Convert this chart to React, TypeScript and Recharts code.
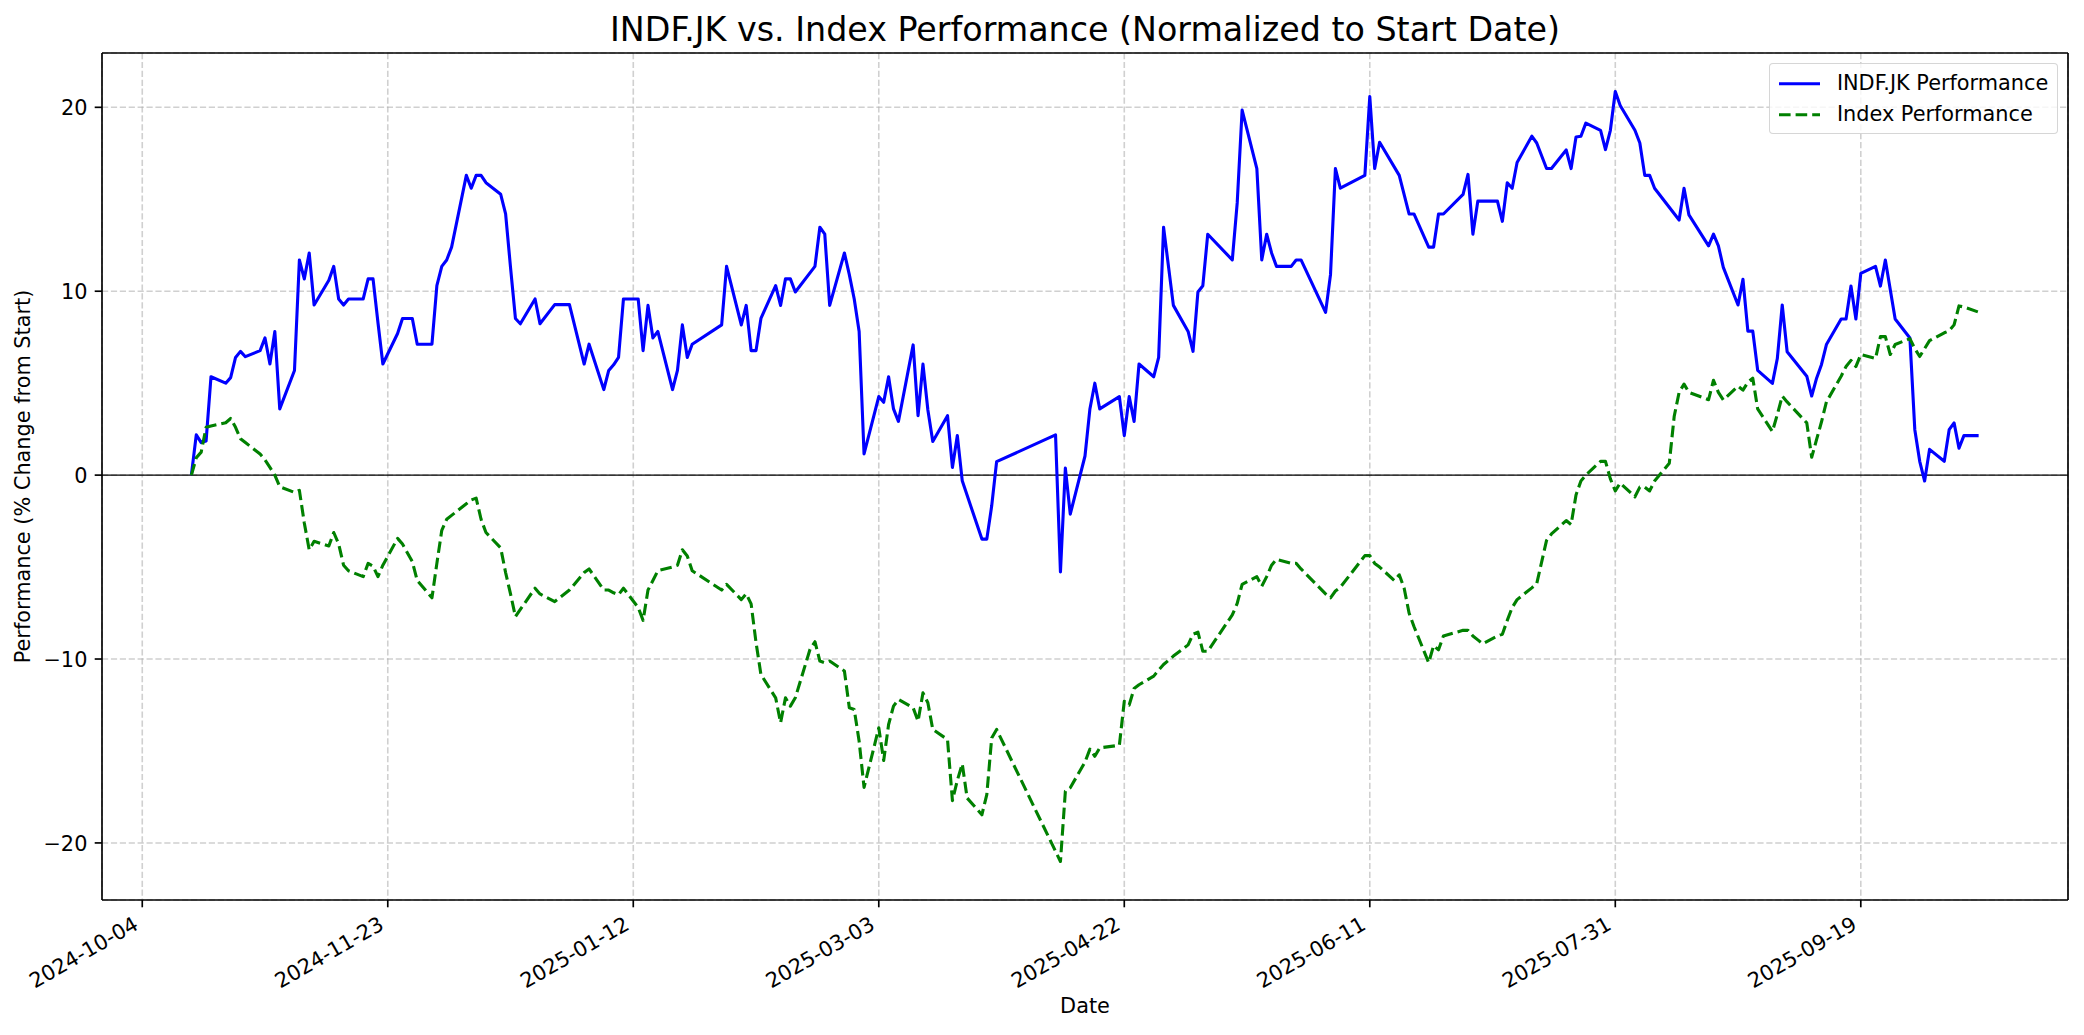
import React from 'react';
import { LineChart, Line, XAxis, YAxis, CartesianGrid, ReferenceLine, Legend } from 'recharts';

// ---------------- data ----------------
const dates: string[] = [
  '2024-10-14','2024-10-15','2024-10-16','2024-10-17','2024-10-18','2024-10-21','2024-10-22','2024-10-23','2024-10-24','2024-10-25','2024-10-28','2024-10-29','2024-10-30','2024-10-31',
  '2024-11-01','2024-11-04','2024-11-05','2024-11-06','2024-11-07','2024-11-08','2024-11-11','2024-11-12','2024-11-13','2024-11-14','2024-11-15','2024-11-18','2024-11-19','2024-11-20','2024-11-21','2024-11-22','2024-11-25','2024-11-26','2024-11-28','2024-11-29',
  '2024-12-02','2024-12-03','2024-12-04','2024-12-05','2024-12-06','2024-12-09','2024-12-10','2024-12-11','2024-12-12','2024-12-13','2024-12-16','2024-12-17','2024-12-18','2024-12-19','2024-12-20','2024-12-23','2024-12-24','2024-12-27','2024-12-30',
  '2025-01-02','2025-01-03','2025-01-06','2025-01-07','2025-01-08','2025-01-09','2025-01-10','2025-01-13','2025-01-14','2025-01-15','2025-01-16','2025-01-17','2025-01-20','2025-01-21','2025-01-22','2025-01-23','2025-01-24','2025-01-30','2025-01-31',
  '2025-02-03','2025-02-04','2025-02-05','2025-02-06','2025-02-07','2025-02-10','2025-02-11','2025-02-12','2025-02-13','2025-02-14','2025-02-17','2025-02-18','2025-02-19','2025-02-20','2025-02-21','2025-02-24','2025-02-25','2025-02-26','2025-02-27','2025-02-28',
  '2025-03-03','2025-03-04','2025-03-05','2025-03-06','2025-03-07','2025-03-10','2025-03-11','2025-03-12','2025-03-13','2025-03-14','2025-03-17','2025-03-18','2025-03-19','2025-03-20','2025-03-21','2025-03-24','2025-03-25','2025-03-26','2025-03-27',
  '2025-04-08','2025-04-09','2025-04-10','2025-04-11','2025-04-14','2025-04-15','2025-04-16','2025-04-17','2025-04-21','2025-04-22','2025-04-23','2025-04-24','2025-04-25','2025-04-28','2025-04-29','2025-04-30',
  '2025-05-02','2025-05-05','2025-05-06','2025-05-07','2025-05-08','2025-05-09','2025-05-14','2025-05-15','2025-05-16','2025-05-19','2025-05-20','2025-05-21','2025-05-22','2025-05-23','2025-05-26','2025-05-27','2025-05-28',
  '2025-06-02','2025-06-03','2025-06-04','2025-06-05','2025-06-10','2025-06-11','2025-06-12','2025-06-13','2025-06-16','2025-06-17','2025-06-18','2025-06-19','2025-06-20','2025-06-23','2025-06-24','2025-06-25','2025-06-26','2025-06-30',
  '2025-07-01','2025-07-02','2025-07-03','2025-07-04','2025-07-07','2025-07-08','2025-07-09','2025-07-10','2025-07-11','2025-07-14','2025-07-15','2025-07-17','2025-07-18','2025-07-21','2025-07-22','2025-07-23','2025-07-24','2025-07-25','2025-07-28','2025-07-29','2025-07-30','2025-07-31',
  '2025-08-01','2025-08-04','2025-08-05','2025-08-06','2025-08-07','2025-08-08','2025-08-11','2025-08-12','2025-08-13','2025-08-14','2025-08-15','2025-08-19','2025-08-20','2025-08-21','2025-08-22','2025-08-25','2025-08-26','2025-08-27','2025-08-28','2025-08-29',
  '2025-09-01','2025-09-02','2025-09-03','2025-09-04','2025-09-08','2025-09-09','2025-09-10','2025-09-11','2025-09-12','2025-09-15','2025-09-16','2025-09-17','2025-09-18','2025-09-19','2025-09-22','2025-09-23','2025-09-24','2025-09-25','2025-09-26','2025-09-29','2025-09-30',
  '2025-10-01','2025-10-02','2025-10-03','2025-10-06','2025-10-07','2025-10-08','2025-10-09','2025-10-10','2025-10-13',
];

const stockPerf: (number | null)[] = [
  0, 2.19, 1.77, 1.85, 5.35, 5.0, 5.3, 6.4, 6.73, 6.44, 6.77, 7.46, 6.04, 7.81,
  3.6, 5.69, 11.7, 10.67, 12.08, 9.25, 10.6, 11.35, 9.58, 9.25, 9.58, 9.58, 10.67, 10.67, 8.3, 6.04, 7.7, 8.52, 8.52, 7.12,
  7.12, 10.3, 11.35, 11.7, 12.4, 16.3, 15.6, 16.3, 16.3, 15.9, 15.27, 14.2, 11.3, 8.52, 8.23, 9.58, 8.23, 9.27, 9.27,
  6.04, 7.12, 4.65, 5.69, 6.0, 6.4, 9.58, 9.58, 6.77, 9.23, 7.46, 7.81, 4.65, 5.69, 8.17, 6.4, 7.12, 8.17, 11.35,
  8.17, 9.23, 6.77, 6.77, 8.52, 10.3, 9.23, 10.67, 10.67, 9.96, null, 11.35, 13.48, 13.1, 9.23, 12.08, 10.9, 9.58, 7.81, 1.15,
  4.27, 3.96, 5.35, 3.6, 2.92, 7.08, 3.23, 6.04, 3.54, 1.83, 3.23, 0.42, 2.15, -0.31, null, -3.48, -3.48, -1.67, 0.73,
  2.19, -5.27, 0.38, -2.12, 1.04, 3.6, 5.0, 3.6, 4.27, 2.15, 4.27, 2.92, 6.04, 5.35, 6.4, 13.48,
  9.23, 7.81, 6.73, 9.96, 10.3, 13.1, 11.7, 14.8, 19.85, 16.67, 11.7, 13.1, 12.08, 11.35, 11.35, 11.7, 11.7,
  8.85, 10.9, 16.67, 15.6, 16.3, 20.58, 16.67, 18.1, null, 16.3, null, 14.2, 14.2, 12.4, 12.4, 14.2, 14.2, 15.27,
  16.35, 13.1, 14.9, 14.9, 14.9, 13.8, 15.9, 15.6, 17.0, 18.43, 18.06, 16.67, 16.67, 17.68, 16.67, 18.39, 18.43, 19.14, 18.75, 17.7, 18.75, 20.86,
  20.1, 18.75, 18.06, 16.3, 16.3, 15.6, null, null, 13.87, 15.6, 14.15, 12.47, 13.1, 12.47, 11.3, 9.25, 10.65, 7.83, 7.83, 5.7,
  4.99, 6.34, 9.25, 6.71, 5.38, 4.3, 5.27, 6.02, 7.1, 8.49, 8.49, 10.28, 8.49, 10.97, 11.35, 10.28, 11.7, null, 8.49, 7.46, 2.47,
  0.75, -0.32, 1.4, 0.75, 2.47, 2.84, 1.46, 2.15, 2.15,
];

const indexPerf: (number | null)[] = [
  0, 0.94, 1.25, 2.6, 2.67, 2.85, 3.08, 2.6, 1.98, 1.77, 1.15, 0.83, 0.42, 0,
  -0.63, -0.94, -0.83, -2.6, -4.06, -3.6, -3.85, -3.12, -3.75, -4.9, -5.2, -5.52, -4.8, -4.95, -5.52, -4.9, -3.44, -3.75, -4.7, -5.73,
  -6.67, -4.8, -3.0, -2.4, -2.19, -1.56, -1.35, -1.25, -2.4, -3.12, -3.96, -5.3, -6.46, -7.7, -7.3, -6.15, -6.46, -6.88, -6.25,
  -5.3, -5.1, -6.25, -6.25, -6.4, -6.5, -6.15, -7.2, -7.9, -6.25, -5.73, -5.2, -5.0, -4.9, -4.06, -4.4, -5.2, -6.25, -5.94,
  -6.77, -6.45, -7.0, -9.1, -10.84, -12.11, -13.47, -12.11, -12.56, -12.11, -9.47, -9.06, -10.11, -10.2, -10.11, -10.65, -12.65, -12.74, -14.47, -16.98,
  -13.74, -15.52, -13.56, -12.56, -12.2, -12.65, -13.38, -11.84, -12.38, -13.83, -14.38, -17.7, -16.6, -15.7, -17.56, -18.47, -17.37, -14.29, -13.83,
  null, -21.01, -17.19, -17.0, -15.6, -14.9, -15.29, -14.83, -14.69, -12.3, -12.5, -11.6, -11.4, -10.93, -10.6, -10.3,
  -9.84, -9.23, -8.65, -8.54, -9.58, -9.58, -7.6, -6.98, -5.94, -5.52, -6.04, -5.52, -4.9, -4.58, -4.79, -4.79, -5.1,
  -6.46, -6.67, -6.3, -6.1, -4.38, -4.38, -4.8, -5.0, -5.73, -5.42, -6.15, -7.5, -8.23, -10.2, -9.27, -9.5, -8.75, -8.44,
  -8.44, -8.75, -8.96, -9.17, -8.75, -8.65, -7.9, -7.2, -6.77, -6.13, -5.9, -3.55, -3.2, -2.47, -2.69, -1.08, -0.32, 0, 0.75, 0.75, -0.2, -0.86,
  -0.43, -1.18, -0.65, -0.65, -0.86, -0.32, 0.65, 3.2, 4.5, 4.95, 4.5, 4.1, 5.16, 4.5, 4.09, 4.84, 4.62, 5.05, 5.27, 3.6,
  2.37, 3.3, 4.3, 3.98, 2.84, 0.97, 1.94, 2.9, 3.98, 5.38, 5.91, 6.24, 5.9, 6.56, 6.34, 7.53, 7.53, 6.56, 7.1, 7.42, 6.88,
  6.45, 6.88, 7.31, 7.74, 7.85, 8.17, 9.2, 9.14, 8.86,
];

const xTickLabels = ['2024-10-04', '2024-11-23', '2025-01-12', '2025-03-03', '2025-04-22', '2025-06-11', '2025-07-31', '2025-09-19'];
const yTicks = [-20, -10, 0, 10, 20];

const titleText = 'INDF.JK vs. Index Performance (Normalized to Start Date)';
const xLabelText = 'Date';
const yLabelText = 'Performance (% Change from Start)';
const stockName = 'INDF.JK Performance';
const indexName = 'Index Performance';

// ---------------- helpers ----------------
const W = 2084;
const H = 1035;
const FONT = '"DejaVu Sans", "Liberation Sans", sans-serif';
const FS = 20.83;
const DAY = 86400000;
const ORIGIN = Date.UTC(2024, 9, 4);
const toDay = (s: string) => {
  const [y, m, d] = s.split('-').map(Number);
  return (Date.UTC(y, m - 1, d) - ORIGIN) / DAY;
};

const chartData = dates.map((dt, i) => ({ x: toDay(dt), stock: stockPerf[i], index: indexPerf[i] }));
const xTicks = xTickLabels.map(toDay);

const xs = chartData.map((d) => d.x);
const xMin = Math.min(...xs);
const xMax = Math.max(...xs);
const xPad = (xMax - xMin) * 0.05;
const xDomain: [number, number] = [xMin - xPad, xMax + xPad];

const ys = [...stockPerf, ...indexPerf].filter((v): v is number => v !== null);
const yMin = Math.min(...ys);
const yMax = Math.max(...ys);
const yPad = (yMax - yMin) * 0.05;
const yDomain: [number, number] = [yMin - yPad, yMax + yPad];

const seriesStyle: Record<string, { dash?: string }> = {
  stock: {},
  index: { dash: '11.6 5' },
};

const fmtY = (v: number) => (v < 0 ? '\u2212' + Math.abs(v) : String(v));

function XTick(props: any) {
  const { x, y, payload } = props;
  const idx = xTicks.indexOf(payload.value);
  const label = idx >= 0 ? xTickLabels[idx] : '';
  return (
    <text
      transform={`translate(${x - 2.6},${y + 13.7}) rotate(-30)`}
      textAnchor="end"
      fontSize={FS}
      fontFamily={FONT}
      fill="#000"
    >
      {label}
    </text>
  );
}

function YTick(props: any) {
  const { x, y, payload } = props;
  return (
    <text x={x} y={y + 7.6} textAnchor="end" fontSize={FS} fontFamily={FONT} fill="#000">
      {fmtY(payload.value)}
    </text>
  );
}

function XLabel(props: any) {
  const vb = props.viewBox || { x: 102, y: 900, width: 1966, height: 100 };
  return (
    <text x={vb.x + vb.width / 2} y={vb.y + 113} textAnchor="middle" fontSize={FS} fontFamily={FONT} fill="#000">
      {xLabelText}
    </text>
  );
}

function YLabel(props: any) {
  const vb = props.viewBox || { x: 42, y: 53, width: 60, height: 847 };
  const x = vb.x + vb.width - 71.7;
  const y = vb.y + vb.height / 2;
  return (
    <text x={x} y={y} transform={`rotate(-90, ${x}, ${y})`} textAnchor="middle" fontSize={FS} fontFamily={FONT} fill="#000">
      {yLabelText}
    </text>
  );
}

function renderLegend(props: any) {
  const items = props.payload || [];
  return (
    <div
      style={{
        boxSizing: 'border-box',
        padding: '8.3px',
        background: 'rgba(255,255,255,0.8)',
        border: '1.2px solid rgba(204,204,204,0.8)',
        borderRadius: 4,
        fontFamily: FONT,
        fontSize: FS,
        color: '#000',
        lineHeight: '20.6px',
        textAlign: 'left',
      }}
    >
      {items.map((item: any, i: number) => {
        const st = seriesStyle[item.dataKey as string] || {};
        return (
          <div key={i} style={{ display: 'flex', alignItems: 'center', height: 20.6, marginTop: i ? 10.4 : 0 }}>
            <svg width={41.6} height={20.6} style={{ display: 'block', flex: 'none' }}>
              <line x1={0} x2={41.6} y1={10.8} y2={10.8} stroke={item.color} strokeWidth={3.1} strokeDasharray={st.dash} />
            </svg>
            <span style={{ marginLeft: 16.6, whiteSpace: 'nowrap' }}>{item.value}</span>
          </div>
        );
      })}
    </div>
  );
}

const spine = { stroke: '#000', strokeWidth: 1.67 };

export default function App() {
  return (
    <div style={{ position: 'absolute', left: 0, top: 0, width: W, height: H, background: '#fff' }}>
      <LineChart width={W} height={H} data={chartData} margin={{ top: 53, right: 16, bottom: 35, left: 42 }}>
        <CartesianGrid stroke="#b0b0b0" strokeOpacity={0.6} strokeWidth={1.6} strokeDasharray="6.2 2.7" />
        <XAxis
          dataKey="x"
          type="number"
          domain={xDomain}
          allowDataOverflow
          ticks={xTicks}
          interval={0}
          tick={<XTick />}
          tickSize={7.3}
          tickMargin={7.3}
          tickLine={spine}
          axisLine={spine}
          height={100}
          label={{ content: XLabel }}
        />
        <YAxis
          type="number"
          domain={yDomain}
          allowDataOverflow
          ticks={yTicks}
          interval={0}
          tick={<YTick />}
          tickSize={7.3}
          tickMargin={7.3}
          tickLine={spine}
          axisLine={spine}
          width={60}
          label={{ content: YLabel }}
        />
        <ReferenceLine y={0} stroke="#000" strokeWidth={1.1} />
        <Line
          dataKey="stock"
          name={stockName}
          stroke="#0000ff"
          strokeWidth={3.1}
          dot={false}
          activeDot={false}
          connectNulls
          strokeLinejoin="round"
          isAnimationActive={false}
        />
        <Line
          dataKey="index"
          name={indexName}
          stroke="#008000"
          strokeWidth={3.1}
          strokeDasharray={seriesStyle.index.dash}
          dot={false}
          activeDot={false}
          connectNulls
          strokeLinejoin="round"
          isAnimationActive={false}
        />
        {/* top and right spines of the axes frame */}
        <ReferenceLine y={yDomain[1]} stroke="#000" strokeWidth={1.67} ifOverflow="extendDomain" />
        <ReferenceLine x={xDomain[1]} stroke="#000" strokeWidth={1.67} ifOverflow="extendDomain" />
        <Legend
          layout="vertical"
          align="center"
          verticalAlign="middle"
          content={renderLegend}
          wrapperStyle={{ top: 63.4, right: 26.4, left: 'auto', bottom: 'auto', width: 'auto', height: 'auto' }}
        />
      </LineChart>
      <svg width={W} height={60} style={{ position: 'absolute', left: 0, top: 0, pointerEvents: 'none' }}>
        <text x={1085} y={40.5} textAnchor="middle" fontSize={33.3} fontFamily={FONT} fill="#000">
          {titleText}
        </text>
      </svg>
    </div>
  );
}
